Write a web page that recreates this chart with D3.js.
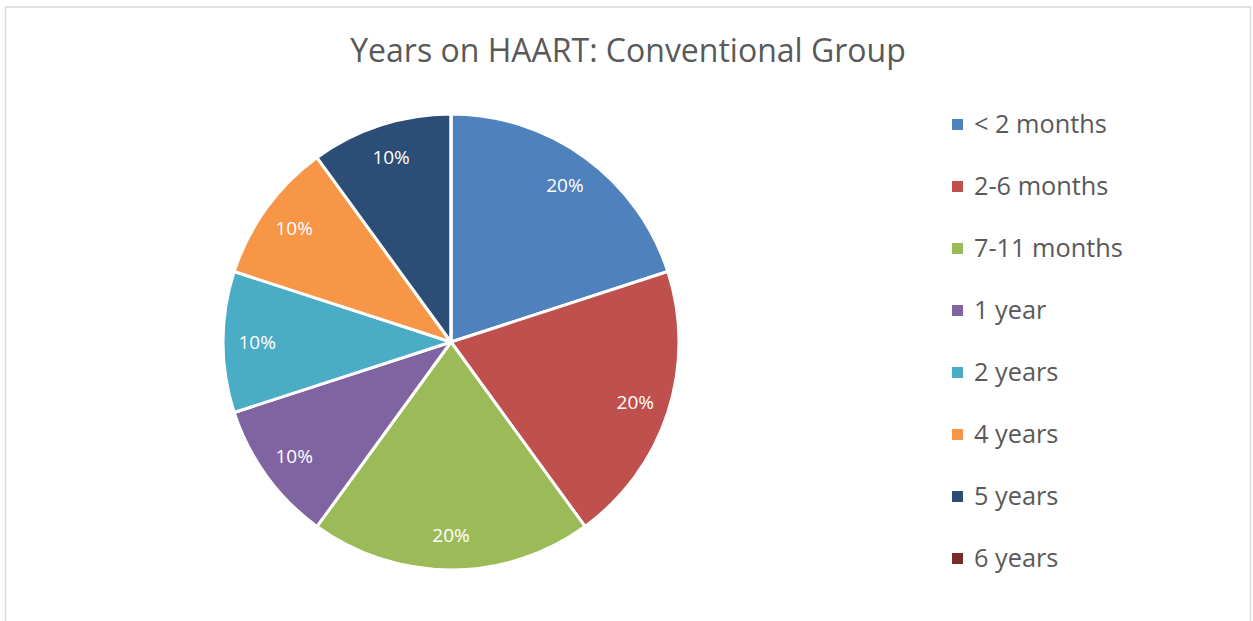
<!DOCTYPE html>
<html><head><meta charset="utf-8">
<script src="https://cdn.jsdelivr.net/npm/d3@7"></script>
<style>body{margin:0;background:#fff}svg{display:block}</style>
</head><body>
<svg id="c" width="1253" height="621"></svg>
<script>
const categories = ["< 2 months","2-6 months","7-11 months","1 year","2 years","4 years","5 years","6 years"];
const values = [20,20,20,10,10,10,10,0];
const colors = ["#4f81bd","#c0504d","#9bbb59","#8064a2","#4bacc6","#f79646","#2c4d75","#772c2a"];
const title = "Years on HAART: Conventional Group";

const svg = d3.select("#c");
const font = "'Open Sans', 'Liberation Sans', sans-serif";
svg.append("rect").attr("x",5.5).attr("y",7).attr("width",1245).attr("height",640)
  .attr("fill","#fff").attr("stroke","#d9d9d9").attr("stroke-width",1.5);

svg.append("text").attr("x",628).attr("y",62).attr("text-anchor","middle")
  .attr("font-family",font).attr("font-size",32).attr("fill","#595959").text(title);

const cx = 451, cy = 342, r = 228;
const data = categories.map((c,i)=>({c, v:values[i], col:colors[i]}));
const pie = d3.pie().value(d=>d.v).sort(null);
const arc = d3.arc().innerRadius(0).outerRadius(r);
const labelArc = d3.arc().innerRadius(r*0.85).outerRadius(r*0.85);
const g = svg.append("g").attr("transform",`translate(${cx},${cy})`);
const arcs = pie(data);
g.selectAll("path").data(arcs).join("path").attr("d",arc)
  .attr("fill",d=>d.data.col).attr("stroke","#fff").attr("stroke-width",3).attr("stroke-linejoin","round");
const total = d3.sum(values);
g.selectAll("text").data(arcs.filter(d=>d.data.v>0)).join("text")
  .attr("transform",d=>`translate(${labelArc.centroid(d)})`)
  .attr("text-anchor","middle").attr("dy","0.35em")
  .attr("font-family",font).attr("font-size",19).attr("fill","#fff")
  .text(d=>Math.round(d.data.v/total*100)+"%");

const leg = svg.append("g");
const y0 = 124, step = 62;
data.forEach((d,i)=>{
  leg.append("rect").attr("x",952).attr("y",y0+i*step-5).attr("width",11).attr("height",11).attr("fill",d.col);
  leg.append("text").attr("x",974).attr("y",y0+i*step).attr("dy","0.35em")
    .attr("font-family",font).attr("font-size",25.3).attr("fill","#595959").text(d.c);
});
</script>
</body></html>
